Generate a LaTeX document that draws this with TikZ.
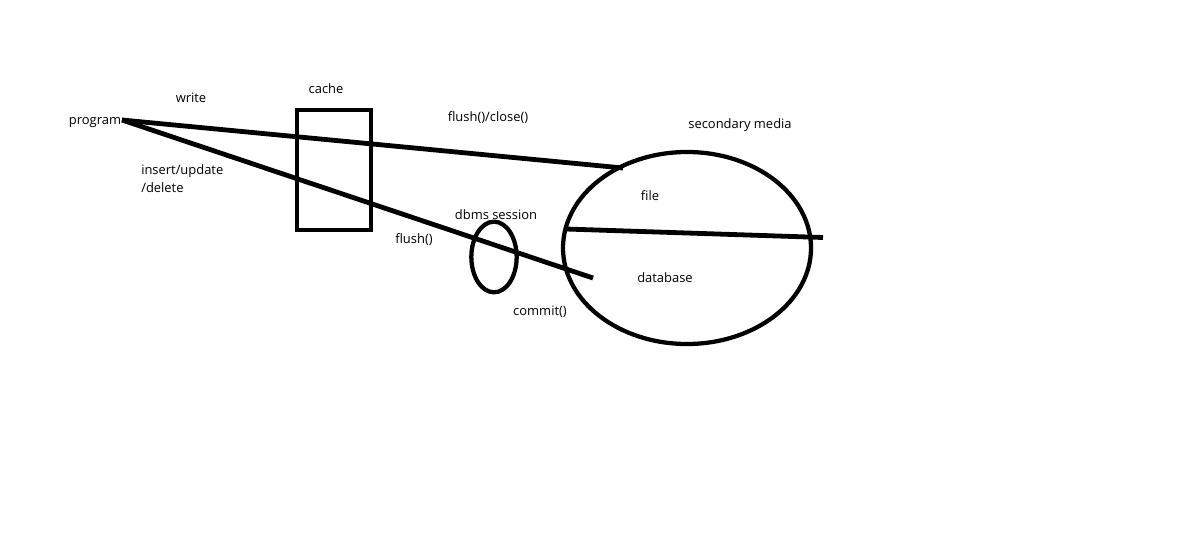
\documentclass[tikz,border=0pt]{standalone}
\usepackage{fontspec}
\setmainfont{Open Sans}
\usetikzlibrary{shapes.geometric}
\begin{document}
\begin{tikzpicture}[x=0.75pt,y=-0.75pt,
  lbl/.style={font=\fontsize{9.7pt}{13.5pt}\selectfont, inner sep=0pt},
  thick line/.style={line width=3.6pt},
  box/.style={draw, line width=3.6pt},
  oval/.style={draw, ellipse, line width=3.2pt, inner sep=0pt}]
\useasboundingbox (0,0) rectangle (1191,542);
% labels
\node[lbl] (program) at (95,123) {program};
\node[lbl] (write) at (191,98) {write};
\node[lbl] (cachelbl) at (326,89) {cache};
\node[lbl, align=left, anchor=west] (iud) at (141,178.5) {insert/update\\/delete};
\node[lbl] (fc) at (488,118) {flush()/close()};
\node[lbl] (sm) at (740,125) {secondary media};
\node[lbl] (file) at (650,196) {file};
\node[lbl] (dbms) at (496,215) {dbms session};
\node[lbl] (flush) at (414,240) {flush()};
\node[lbl] (database) at (665,278) {database};
\node[lbl] (commit) at (540,312) {commit()};
% shapes
\node[box, minimum width=55.5pt, minimum height=90pt, inner sep=0pt] (cache) at (334,170) {};
\node[oval, minimum width=186pt, minimum height=144pt] (media) at (687,248) {};
\node[oval, minimum width=34pt, minimum height=53pt] (session) at (494,257) {};
% connectors
\coordinate (p) at (122,120);
\coordinate (fileend) at (623,168);
\coordinate (dbend) at (593,278);
\coordinate (splitL) at (566,229);
\coordinate (splitR) at (823,237.5);
\draw[thick line] (p) -- (fileend);
\draw[thick line] (p) -- (dbend);
\draw[thick line] (splitL) -- (splitR);
\end{tikzpicture}
\end{document}
